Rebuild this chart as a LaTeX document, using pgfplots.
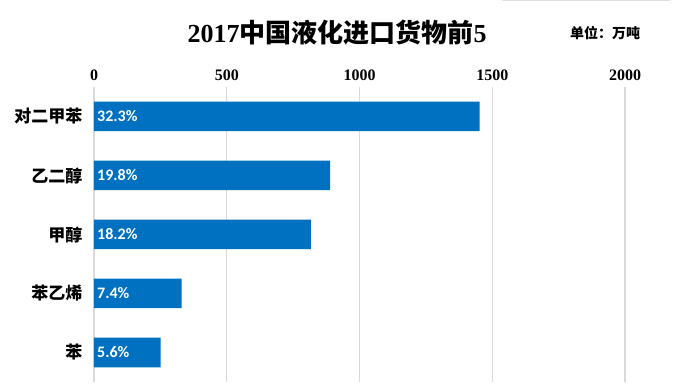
\documentclass[border=0pt]{standalone}
\usepackage{fontspec}
\usepackage{pgfplots}
\pgfplotsset{compat=1.18}
\setmainfont{Liberation Serif}
\newfontfamily\cjk{Noto Sans CJK SC}
\newfontfamily\lab{Carlito}
\definecolor{barblue}{HTML}{0070C0}
\definecolor{gridgray}{HTML}{D9D9D9}
\begin{document}
\begin{tikzpicture}[x=1pt,y=1pt]
\path[use as bounding box] (0,0) rectangle (683,390);
\begin{axis}[
  at={(94pt,8pt)}, anchor=south west,
  scale only axis, width=531pt, height=295pt,
  xmin=0, xmax=2000,
  ymin=-0.5, ymax=4.5, y dir=reverse,
  ytick={0,1,2,3,4},
  yticklabels={对二甲苯,乙二醇,甲醇,苯乙烯,苯},
  yticklabel style={font=\cjk\bfseries\fontsize{17}{17}\selectfont, xshift=-8pt},
  xtick={0,500,1000,1500,2000},
  xticklabel pos=upper,
  xticklabel style={font=\bfseries\fontsize{16}{16}\selectfont, yshift=3pt},
  /pgf/number format/assume math mode=true,
  /pgf/number format/1000 sep={},
  axis line style={draw=none},
  major tick style={draw=none},
  xmajorgrids, grid style={gridgray, line width=1.2pt},
  clip=false,
]
\addplot[xbar, bar width=29.5pt, fill=barblue, draw=none]
  coordinates {(1452,0) (889,1) (817,2) (330,3) (251,4)};
\addplot[draw=none, mark=none, nodes near coords, point meta=explicit symbolic,
  nodes near coords style={anchor=west, text=white, inner sep=0pt, xshift=3pt,
    font=\lab\bfseries\fontsize{16}{16}\selectfont}]
  coordinates {(0,0) [32.3\%] (0,1) [19.8\%] (0,2) [18.2\%] (0,3) [7.4\%] (0,4) [5.6\%]};
\end{axis}
\node[font=\bfseries\fontsize{26}{26}\selectfont] at (337,357) {2017{\cjk 中国液化进口货物前}5};
\node[font=\cjk\bfseries\fontsize{14}{14}\selectfont] at (605,357) {单位：万吨};
\draw[gray!25, line width=1pt] (502,389.5) -- (670,389.5);
\end{tikzpicture}
\end{document}
